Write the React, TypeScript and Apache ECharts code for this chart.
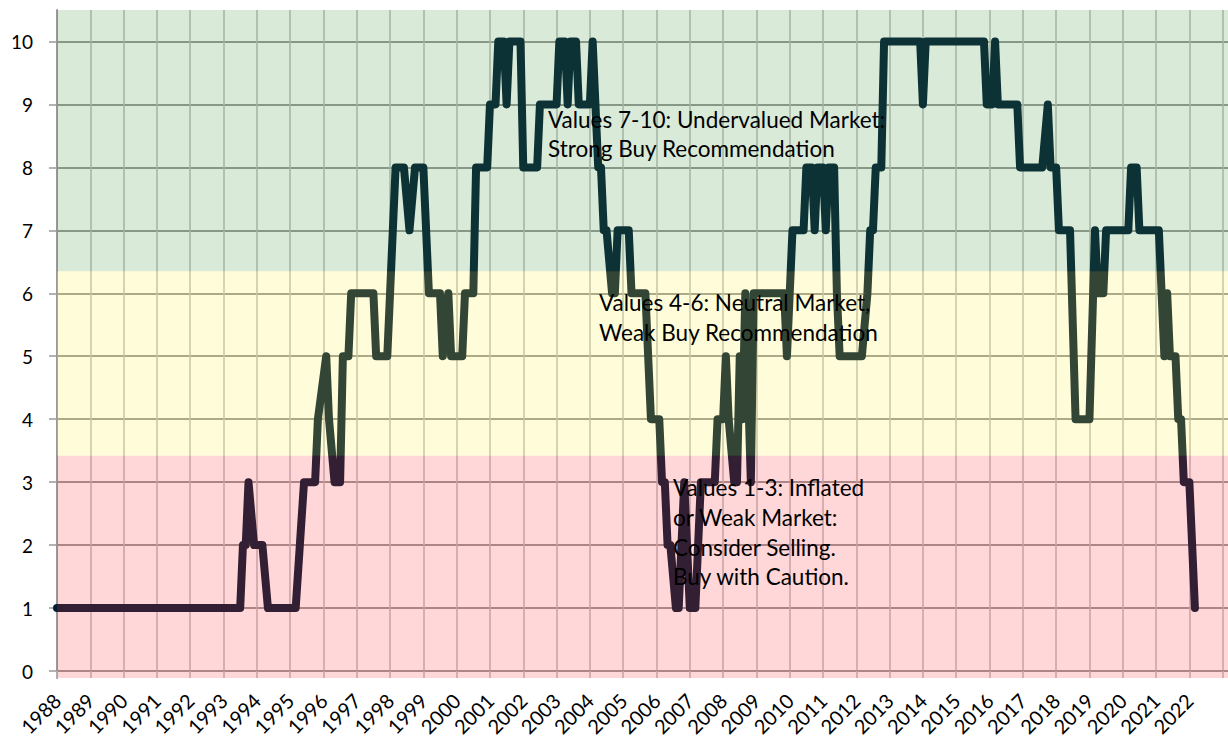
import React, { useEffect, useRef } from "react";
import * as echarts from "echarts";

// Breakpoints of the monthly score (YYYY-MM) and the score held there
const dates = [
  "1988-01", "1993-07", "1993-08", "1993-09", "1993-10", "1993-12", "1994-03", "1994-05",
  "1995-03", "1995-06", "1995-10", "1995-11", "1996-02", "1996-03", "1996-05", "1996-07",
  "1996-08", "1996-10", "1996-11", "1997-07", "1997-08", "1997-12", "1998-03", "1998-06",
  "1998-08", "1998-10", "1999-01", "1999-03", "1999-07", "1999-08", "1999-10", "1999-11",
  "2000-03", "2000-04", "2000-07", "2000-08", "2000-12", "2001-01", "2001-03", "2001-04",
  "2001-06", "2001-07", "2001-08", "2001-12", "2002-01", "2002-06", "2002-07", "2003-01",
  "2003-02", "2003-04", "2003-05", "2003-06", "2003-08", "2003-09", "2004-01", "2004-02",
  "2004-04", "2004-05", "2004-06", "2004-07", "2004-09", "2004-10", "2004-11", "2005-03",
  "2005-04", "2005-09", "2005-11", "2006-02", "2006-03", "2006-04", "2006-05", "2006-06",
  "2006-08", "2006-09", "2006-11", "2007-01", "2007-03", "2007-05", "2007-10", "2007-11",
  "2008-01", "2008-02", "2008-03", "2008-05", "2008-06", "2008-07", "2008-08", "2008-09",
  "2008-11", "2008-12", "2009-11", "2009-12", "2010-02", "2010-06", "2010-07", "2010-09",
  "2010-10", "2010-11", "2011-01", "2011-02", "2011-03", "2011-05", "2011-06", "2011-07",
  "2012-03", "2012-05", "2012-06", "2012-07", "2012-08", "2012-10", "2012-11", "2013-12",
  "2014-01", "2014-02", "2015-11", "2015-12", "2016-02", "2016-03", "2016-04", "2016-11",
  "2016-12", "2017-08", "2017-10", "2017-11", "2018-01", "2018-02", "2018-06", "2018-08",
  "2019-01", "2019-03", "2019-04", "2019-06", "2019-07", "2020-03", "2020-04", "2020-06",
  "2020-07", "2021-02", "2021-03", "2021-04", "2021-05", "2021-06", "2021-08", "2021-09",
  "2021-10", "2021-11", "2022-01", "2022-03",
];
const values = [
  1, 1, 2, 2, 3, 2, 2, 1,
  1, 3, 3, 4, 5, 4, 3, 3,
  5, 5, 6, 6, 5, 5, 8, 8,
  7, 8, 8, 6, 6, 5, 6, 5,
  5, 6, 6, 8, 8, 9, 9, 10,
  10, 9, 10, 10, 8, 8, 9, 9,
  10, 10, 9, 10, 10, 9, 9, 10,
  8, 8, 7, 7, 6, 6, 7, 7,
  6, 6, 4, 4, 3, 3, 2, 2,
  1, 1, 3, 1, 1, 3, 3, 4,
  4, 5, 4, 3, 3, 5, 4, 6,
  3, 6, 6, 5, 7, 7, 8, 8,
  7, 8, 8, 7, 8, 8, 6, 5,
  5, 6, 7, 7, 8, 8, 10, 10,
  9, 10, 10, 9, 9, 10, 9, 9,
  8, 8, 9, 8, 8, 7, 7, 4,
  4, 7, 6, 6, 7, 7, 8, 8,
  7, 7, 6, 5, 6, 5, 5, 4,
  4, 3, 3, 1,
];

const yearLabels = [
  1988, 1989, 1990, 1991, 1992, 1993, 1994, 1995, 1996, 1997, 1998, 1999, 2000, 2001, 2002,
  2003, 2004, 2005, 2006, 2007, 2008, 2009, 2010, 2011, 2012, 2013, 2014, 2015, 2016, 2017,
  2018, 2019, 2020, 2021, 2022,
];
const yearTicks = [...yearLabels, 2023];
const scoreTicks = [0, 1, 2, 3, 4, 5, 6, 7, 8, 9, 10];

// Zones: [from, to]
const greenZone = [6.35, 10.5];
const yellowZone = [3.42, 6.35];
const redZone = [-0.11, 3.42];

const zoneTexts = [
  "Values 7-10: Undervalued Market:\nStrong Buy Recommendation",
  "Values 4-6: Neutral Market,\nWeak Buy Recommendation",
  "Values 1-3: Inflated\nor Weak Market:\nConsider Selling.\nBuy with Caution.",
];

const toYear = (d: string) => {
  const [y, m] = d.split("-").map(Number);
  return y + (m - 1) / 12;
};

export default function App() {
  const ref = useRef<HTMLDivElement>(null);
  useEffect(() => {
    if (!ref.current) return;
    const chart = echarts.init(ref.current, undefined, { renderer: "svg" });
    const points = dates.map((d, i) => [toYear(d), values[i]]);
    const font = "Lato, 'Noto Sans', sans-serif";
    const xMax = 2023.16;
    const textStyle = (t: string, lh: number) => ({
      text: t,
      font: `22.5px ${font}`,
      fill: "#000",
      lineHeight: lh,
      verticalAlign: "top",
    });
    chart.setOption({
      animation: false,
      grid: [
        { left: 57, right: 0, top: 10, height: 661, outerBoundsMode: "none", containLabel: false },
        { left: 57, right: 0, top: 10, height: 668, outerBoundsMode: "none", containLabel: false },
      ],
      xAxis: [
        {
          type: "value",
          gridIndex: 0,
          min: 1988,
          max: xMax,
          interval: 1,
          axisLine: { show: true, lineStyle: { color: "#999999", width: 2 } },
          axisTick: {
            show: true,
            length: 7,
            customValues: yearTicks,
            lineStyle: { color: "#bbbbbb", width: 1.5 },
          },
          axisLabel: {
            customValues: yearLabels,
            formatter: (v: number) => String(v),
            rotate: 45,
            margin: 26,
            fontSize: 20,
            color: "#000",
            fontFamily: font,
          },
          splitLine: { show: true, lineStyle: { color: "#bbbbbb", width: 1.5 } },
        },
        { type: "value", gridIndex: 1, min: 1988, max: xMax, show: false },
      ],
      yAxis: [
        {
          type: "value",
          gridIndex: 0,
          min: 0,
          max: 10.5,
          interval: 1,
          axisLine: { show: false },
          axisTick: {
            show: true,
            length: 8,
            customValues: scoreTicks,
            lineStyle: { color: "#999999", width: 1.5 },
          },
          axisLabel: {
            customValues: scoreTicks,
            formatter: (v: number) => String(v),
            margin: 24,
            fontSize: 19,
            color: "#000",
            fontFamily: font,
          },
          splitLine: { show: true, lineStyle: { color: "#999999", width: 2 } },
        },
        {
          type: "value",
          gridIndex: 1,
          min: -0.11,
          max: 10.5,
          axisLine: { show: true, lineStyle: { color: "#999999", width: 2 } },
          axisTick: { show: false },
          axisLabel: { show: false },
          splitLine: { show: false },
        },
      ],
      series: [
        {
          type: "line",
          xAxisIndex: 0,
          yAxisIndex: 0,
          data: points,
          symbol: "none",
          showSymbol: false,
          z: 2,
          lineStyle: { color: "#001a33", width: 8, cap: "round", join: "round" },
        },
        {
          type: "line",
          xAxisIndex: 1,
          yAxisIndex: 1,
          data: [],
          z: 5,
          markArea: {
            silent: true,
            z: 5,
            data: [
              [
                { yAxis: greenZone[0], itemStyle: { color: "rgba(65,150,65,0.2)" } },
                { yAxis: greenZone[1] },
              ],
              [
                { yAxis: yellowZone[0], itemStyle: { color: "rgba(255,245,65,0.2)" } },
                { yAxis: yellowZone[1] },
              ],
              [
                { yAxis: redZone[0], itemStyle: { color: "rgba(255,55,60,0.2)" } },
                { yAxis: redZone[1] },
              ],
            ],
          },
        },
      ],
      graphic: [
        { type: "text", x: 548, y: 105, z: 100, style: textStyle(zoneTexts[0], 29) },
        { type: "text", x: 599, y: 288, z: 100, style: textStyle(zoneTexts[1], 29.5) },
        { type: "text", x: 673, y: 473, z: 100, style: textStyle(zoneTexts[2], 29.7) },
      ],
    });
    return () => chart.dispose();
  }, []);
  return (
    <div
      ref={ref}
      style={{ position: "fixed", left: 0, top: 0, width: 1228, height: 737, background: "#fff" }}
    />
  );
}
